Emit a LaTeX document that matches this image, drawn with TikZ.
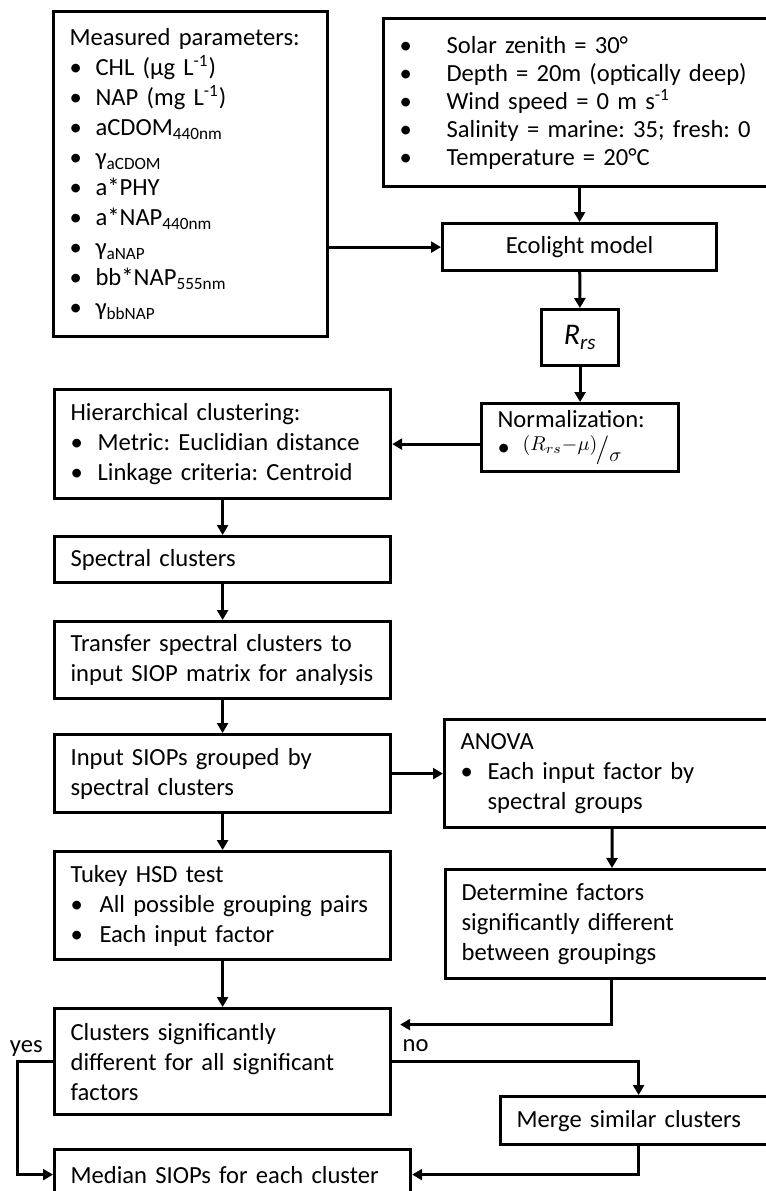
\documentclass[tikz,border=0pt]{standalone}
\usepackage{fontspec}
\setmainfont{Carlito}
\usetikzlibrary{arrows.meta, positioning}
\tikzstyle{process} = [
  rectangle,
  draw=black,
  line width=1.6pt,
  anchor=north west,
  inner xsep=8pt,
  inner ysep=2pt,
  align=left,
  font=\fontsize{12.3}{15}\selectfont
]
\tikzstyle{arrow} = [line width=1.5pt, -{Triangle[length=5pt,width=5.5pt]}]
\tikzstyle{answer} = [inner sep=1pt, font=\fontsize{12.3}{15}\selectfont]
\newcommand{\bitem}[2][13.5pt]{\makebox[#1][l]{\textbullet}#2}
\frenchspacing

\begin{document}
\begin{tikzpicture}[x=0.5pt, y=-0.5pt]
    \useasboundingbox (0,0) rectangle (766,1191);
    \clip (0,0) rectangle (766,1191);
    % model set-up
    \node (measured) [process, minimum width=137pt, minimum height=162.5pt, text width=121pt] at (52,10)
      {Measured parameters:\\
       \bitem[13pt]{CHL (µg L\textsuperscript{-1})}\\
       \bitem[13pt]{NAP (mg L\textsuperscript{-1})}\\
       \bitem[13pt]{aCDOM\textsubscript{440nm}}\\
       \bitem[13pt]{γ\textsubscript{aCDOM}}\\
       \bitem[13pt]{a*PHY}\\
       \bitem[13pt]{a*NAP\textsubscript{440nm}}\\
       \bitem[13pt]{γ\textsubscript{aNAP}}\\
       \bitem[13pt]{bb*NAP\textsubscript{555nm}}\\
       \bitem[13pt]{γ\textsubscript{bbNAP}}};
    \node (solar) [process, minimum width=204pt, minimum height=84pt, text width=188pt, font=\fontsize{12.3}{14}\selectfont] at (382,17)
      {\bitem[23.5pt]{Solar zenith = 30°}\\
       \bitem[23.5pt]{Depth = 20m (optically deep)}\\
       \bitem[23.5pt]{Wind speed = 0 m s\textsuperscript{-1}}\\
       \bitem[23.5pt]{Salinity = marine: 35; fresh: 0}\\
       \bitem[23.5pt]{Temperature = 20°C}};
    \node (ecolight) [process, minimum width=137pt, minimum height=23.5pt, align=center] at (441,222) {Ecolight model};
    \node (rrs) [process, minimum width=38.5pt, minimum height=28pt, inner xsep=2pt, font=\fontsize{15}{18}\selectfont] at (540,308) {\textit{R\textsubscript{rs}}};
    \node (norm) [process, minimum width=98.5pt, minimum height=34pt, text width=82.5pt] at (480,402)
      {Normalization:\\[-1pt]
       \bitem[12.5pt]{\raisebox{2.5pt}{\fontsize{10}{12}\selectfont$(R_{rs}{-}\mu)$}\kern-1pt\raisebox{-1pt}{\fontsize{14}{14}\selectfont$/$}\raisebox{-3pt}{\fontsize{10}{12}\selectfont$\sigma$}}};

    % clustering
    \node (hier) [process, minimum width=168pt, minimum height=54.5pt, text width=152pt] at (53,388)
      {Hierarchical clustering:\\
       \bitem{Metric: Euclidian distance}\\
       \bitem{Linkage criteria: Centroid}};
    \node (spectral) [process, minimum width=168pt, minimum height=23pt, text width=152pt] at (53,535) {Spectral clusters};
    \node (transfer) [process, minimum width=168pt, minimum height=38.5pt, text width=152pt] at (53,620)
      {Transfer spectral clusters to\\ input SIOP matrix for analysis};
    \node (input) [process, minimum width=168pt, minimum height=39pt, text width=152pt] at (53,733)
      {Input SIOPs grouped by\\ spectral clusters};
    \node (tukey) [process, minimum width=168pt, minimum height=54pt, text width=152pt] at (53,850)
      {Tukey HSD test\\
       \bitem[14.5pt]{All possible grouping pairs}\\
       \bitem[14.5pt]{Each input factor}};
    \node (clusters) [process, minimum width=168pt, minimum height=53pt, text width=152pt] at (53,1007)
      {Clusters significantly\\ different for all significant\\ factors};
    \node (median) [process, minimum width=178pt, minimum height=25pt, text width=162pt] at (53,1148)
      {Median SIOPs for each cluster};

    % significance tests
    \node (anova) [process, minimum width=168pt, minimum height=54pt, text width=152pt] at (443,718)
      {ANOVA\\ \bitem{Each input factor by}\\ \hspace*{13.5pt}spectral groups};
    \node (determine) [process, minimum width=166pt, minimum height=54.5pt, text width=150pt] at (444,868)
      {Determine factors\\ significantly different\\ between groupings};
    \node (merge) [process, minimum width=138pt, minimum height=24pt, text width=122pt] at (499,1095)
      {Merge similar clusters};

    \node (yes-label) [answer, anchor=south east] at ([xshift=-4pt, yshift=1.5pt]clusters.west) {yes};
    \node (no-label) [answer, anchor=south west] at ([xshift=4pt, yshift=4pt]clusters.east) {no};
    \coordinate (loop-in) at ([xshift=4pt, yshift=18.5pt]clusters.east);

    \draw [arrow] (ecolight.west -| measured.east) -- (ecolight.west);
    \draw [arrow] (ecolight.north |- solar.south) -- (ecolight.north);
    \draw [arrow] (ecolight) -- (rrs);
    \draw [arrow] (rrs) -- (norm);
    \draw [arrow] (hier.east -| norm.west) -- (hier.east);
    \draw [arrow] (hier) -- (spectral);
    \draw [arrow] (spectral) -- (transfer);
    \draw [arrow] (transfer) -- (input);
    \draw [arrow] (input) -- (anova);
    \draw [arrow] (input) -- (tukey);
    \draw [arrow] (tukey) -- (clusters);
    \draw [arrow] (anova) -- (determine);
    \draw [arrow] (determine.south) |- (loop-in);
    \draw [arrow] (clusters.east) -| (merge.north);
    \draw [arrow] (merge.south) |- (median.east);
    \draw [arrow] (clusters.west) -- ++(-18pt,0) |- (median.west);
  \end{tikzpicture}
\end{document}
